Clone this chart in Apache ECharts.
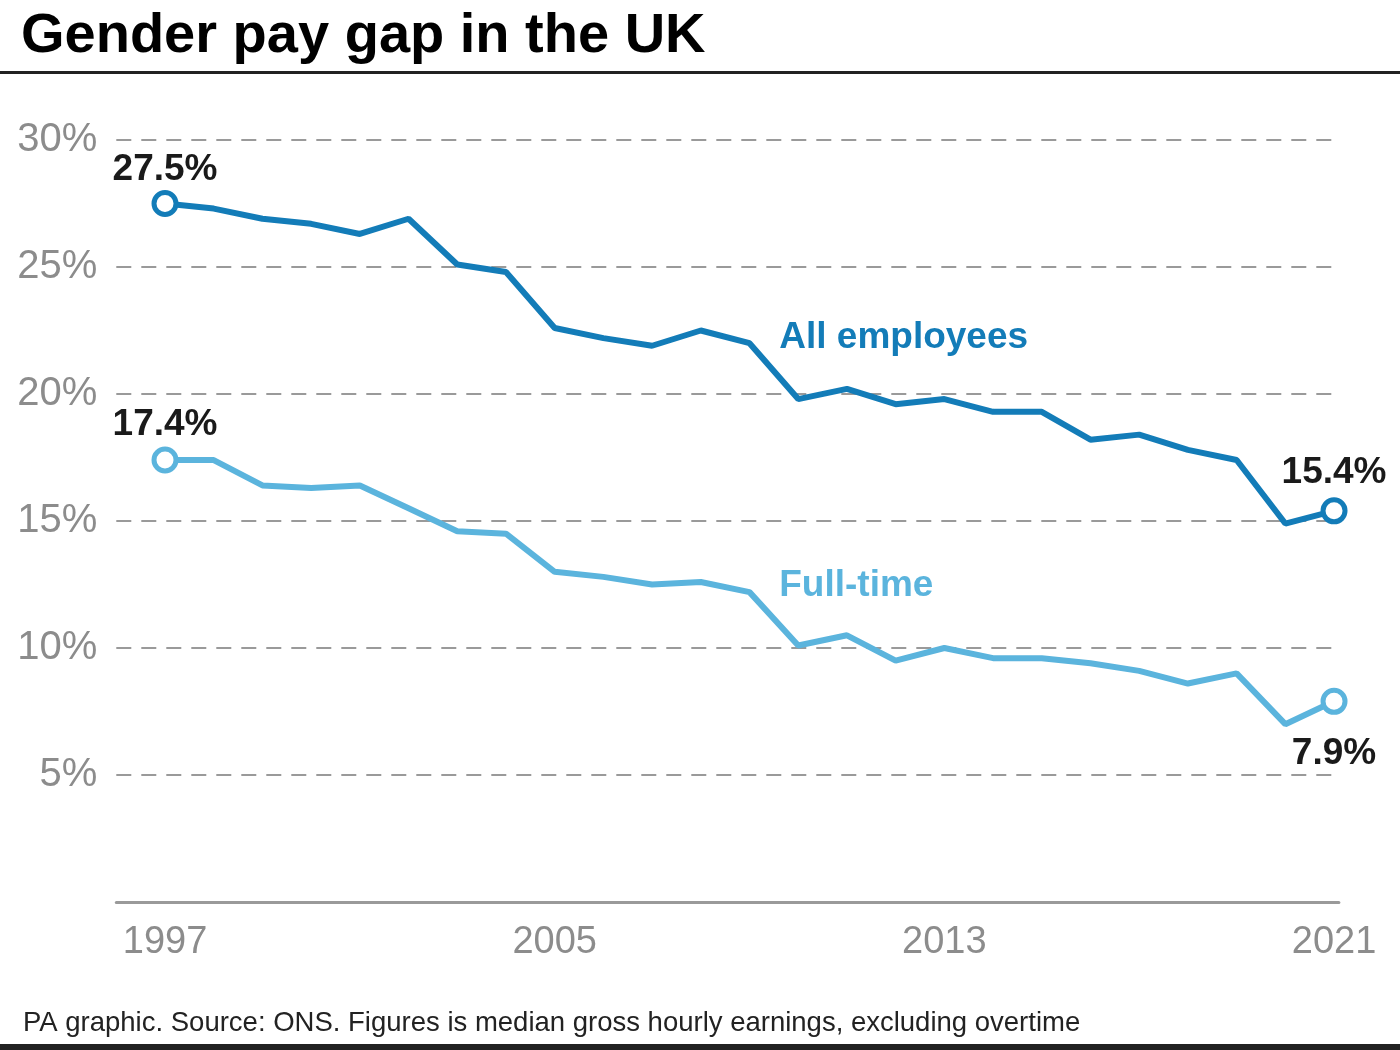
<!DOCTYPE html>
<html>
<head>
<meta charset="utf-8">
<script src="https://cdn.jsdelivr.net/npm/echarts@6/dist/echarts.min.js"></script>
<style>
  html, body { margin: 0; padding: 0; background: #fff; }
  #chart { width: 1400px; height: 1050px; }
</style>
</head>
<body>
<div id="chart"></div>
<script>
// ---- data ----
const years = [1997,1998,1999,2000,2001,2002,2003,2004,2005,2006,2007,2008,2009,2010,2011,2012,2013,2014,2015,2016,2017,2018,2019,2020,2021];
const allEmployees = [27.5,27.3,26.9,26.7,26.3,26.9,25.1,24.8,22.6,22.2,21.9,22.5,22.0,19.8,20.2,19.6,19.8,19.3,19.3,18.2,18.4,17.8,17.4,14.9,15.4];
const fullTime = [17.4,17.4,16.4,16.3,16.4,15.5,14.6,14.5,13.0,12.8,12.5,12.6,12.2,10.1,10.5,9.5,10.0,9.6,9.6,9.4,9.1,8.6,9.0,7.0,7.9];
const yearTicks = [1997, 2005, 2013, 2021];
const titleText = 'Gender pay gap in the UK';
const footText = 'PA graphic. Source: ONS. Figures is median gross hourly earnings, excluding overtime';
const seriesNames = ['All employees', 'Full-time'];
const seriesLabelPos = [[2009.6, 22.22], [2009.6, 12.45]];

const darkBlue = '#137cb8';
const lightBlue = '#5bb4dd';
const font = '"Liberation Sans", Arial, Helvetica, sans-serif';

function pairs(vals) { return years.map((y, i) => [y, vals[i]]); }

function endLabels(vals, color, firstPos, lastPos, firstDist, lastDist) {
  const last = vals.length - 1;
  return pairs(vals).map((p, i) => {
    if (i === 0 || i === last) {
      return {
        value: p,
        symbol: 'circle',
        symbolSize: 22,
        itemStyle: { color: '#fff', borderColor: color, borderWidth: 5 },
        label: {
          show: true,
          position: i === 0 ? firstPos : lastPos,
          distance: i === 0 ? firstDist : lastDist,
          formatter: p[1].toFixed(1) + '%',
          color: '#1a1a1a',
          fontFamily: font,
          fontWeight: 'bold',
          fontSize: 37
        }
      };
    }
    return { value: p, symbol: 'none' };
  });
}

function nameMark(name, pos, color) {
  return {
    symbol: 'rect',
    symbolSize: 1,
    itemStyle: { color: 'rgba(0,0,0,0)' },
    data: [{ coord: pos, value: 0 }],
    label: { show: true, position: 'right', distance: 0, formatter: name,
      color: color, fontFamily: font, fontWeight: 'bold', fontSize: 37 }
  };
}

const chart = echarts.init(document.getElementById('chart'), null, { renderer: 'canvas' });

chart.setOption({
  animation: false,
  backgroundColor: '#fff',
  title: [
    { text: titleText, left: 16, top: 4,
      textStyle: { fontFamily: font, fontWeight: 'bold', fontSize: 56, color: '#000' } },
    { text: footText, left: 18, top: 1004,
      textStyle: { fontFamily: font, fontWeight: 'normal', fontSize: 27.5, color: '#222' } }
  ],
  graphic: [
    { type: 'rect', left: 0, top: 71, shape: { width: 1400, height: 3 }, style: { fill: '#222' } },
    { type: 'rect', left: 0, top: 1044, shape: { width: 1400, height: 6 }, style: { fill: '#222' } }
  ],
  grid: { left: 116.3, right: 61.1, top: 140, bottom: 148, containLabel: false },
  xAxis: {
    type: 'value',
    min: 1996,
    max: 2021.1,
    axisLine: { show: true, lineStyle: { color: '#9a9a9a', width: 3 } },
    axisTick: { show: false },
    splitLine: { show: false },
    axisLabel: {
      customValues: yearTicks,
      formatter: v => String(v),
      color: '#8c8c8c',
      fontFamily: font,
      fontSize: 38,
      margin: 22
    }
  },
  yAxis: {
    type: 'value',
    min: 0,
    max: 30,
    interval: 5,
    axisLine: { show: false },
    axisTick: { show: false },
    splitLine: { show: true, lineStyle: { color: '#9a9a9a', width: 2, type: [15, 10] } },
    axisLabel: {
      formatter: v => v === 0 ? '' : v + '%',
      color: '#8c8c8c',
      fontFamily: font,
      fontSize: 40,
      margin: 19
    }
  },
  series: [
    {
      name: seriesNames[0],
      type: 'line',
      data: endLabels(allEmployees, darkBlue, 'top', 'top', 2, 6),
      lineStyle: { color: darkBlue, width: 6 },
      itemStyle: { color: darkBlue },
      z: 3,
      markPoint: nameMark(seriesNames[0], seriesLabelPos[0], darkBlue)
    },
    {
      name: seriesNames[1],
      type: 'line',
      data: endLabels(fullTime, lightBlue, 'top', 'bottom', 3, 20),
      lineStyle: { color: lightBlue, width: 6 },
      itemStyle: { color: lightBlue },
      z: 2,
      markPoint: nameMark(seriesNames[1], seriesLabelPos[1], lightBlue)
    }
  ]
});
</script>
</body>
</html>
